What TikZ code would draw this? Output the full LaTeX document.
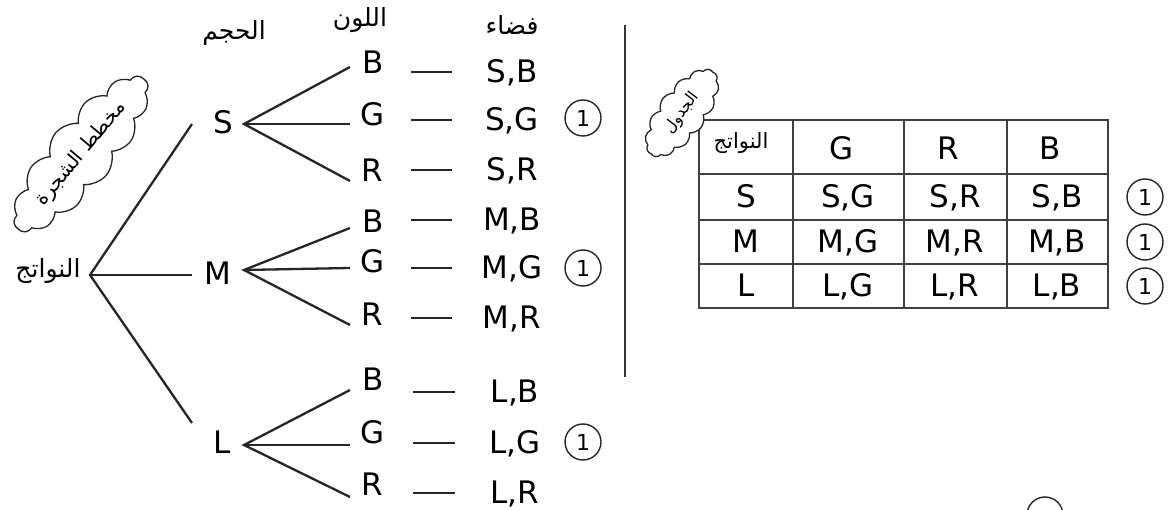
\documentclass[tikz,border=0pt]{standalone}
\usepackage{fontspec}
\setmainfont{DejaVu Sans}
\newfontfamily\arabicfont[Script=Arabic]{DejaVu Sans}
\TeXXeTstate=1
\usetikzlibrary{shapes.symbols}
\begin{document}
\begin{tikzpicture}[x=1pt,y=-1pt,
  every node/.style={inner sep=0pt,outer sep=0pt},
  lat/.style={font=\fontsize{31}{31}\selectfont,text height=22pt,text depth=0pt},
  tab/.style={font=\fontsize{31}{31}\selectfont,text height=22pt,text depth=0pt},
  ar/.style={font=\arabicfont\fontsize{25}{25}\selectfont},
  arsmall/.style={font=\arabicfont\fontsize{21}{21}\selectfont},
  tree/.style={line width=2.3pt,black!85},
  dashline/.style={line width=2.3pt,black!85},
  circ/.style={circle,draw=black!85,line width=1.4pt,minimum size=36pt,font=\fontsize{22}{22}\selectfont},
  grid/.style={line width=2pt,black!75},
  cloudbox/.style={cloud,draw=black!85,line width=1.3pt,cloud puffs=14,cloud puff arc=110,cloud ignores aspect,fill=white}
]
\path[use as bounding box,clip] (0,0) rectangle (1171,510);
\fill[white] (0,0) rectangle (1171,510);

% headers
\node[ar] (hSize) at (234,33) {\beginR الحجم\endR};
\node[ar] (hCol) at (360,20) {\beginR اللون\endR};
\node[ar] (hSpace) at (512,25) {\beginR فضاء\endR};

% root
\node[ar] (root) at (48,271) {\beginR النواتج\endR};
\coordinate (rv) at (90,275);
\coordinate (rS) at (192,124);
\coordinate (rM) at (192,275);
\coordinate (rL) at (192,423);
\draw[tree] (rS) -- (rv) -- (rL);
\draw[tree] (rv) -- (rM);

% first level
\node[lat] (S) at (223,123) {S};
\node[lat] (M) at (218,274) {M};
\node[lat] (L) at (222,443) {L};

\foreach \g/\vy/\yb/\yg/\yr/\lb/\lg/\lr in
  {S/124/67/124/181/63/115/171, M/270/228/268/325/222/262/315, L/445/390/445/497/380/433/485}{
  \coordinate (\g v) at (244,\vy);
  \coordinate (\g Be) at (350,\yb);
  \coordinate (\g Ge) at (350,\yg);
  \coordinate (\g Re) at (350,\yr);
  \node[lat] (\g Bl) at (373,\lb) {B};
  \node[lat] (\g Gl) at (373,\lg) {G};
  \node[lat] (\g Rl) at (372,\lr) {R};
  \draw[tree] (\g Be) -- (\g v) -- (\g Re);
  \draw[tree] (\g v) -- (\g Ge);
}

% outcomes
\coordinate (dl) at (411,0);
\coordinate (dr) at (452,0);
\coordinate (dlL) at (413,0);
\coordinate (drL) at (455,0);
\foreach \a/\b/\y in {S/B/72,S/G/120,S/R/170,M/B/220,M/G/268,M/R/318}{
  \node[lat] (o\a\b) at (512,\y) {\a,\b};
  \draw[dashline] (o\a\b.center -| dl) -- (o\a\b.center -| dr);
}
\foreach \a/\b/\y in {L/B/392,L/G/443,L/R/493}{
  \node[lat] (o\a\b) at (515,\y) {\a,\b};
  \draw[dashline] (o\a\b.center -| dlL) -- (o\a\b.center -| drL);
}
\node[circ] (c1) at (583,118) {1};
\node[circ] (c2) at (583,268) {1};
\node[circ] (c3) at (583,442) {1};

% divider
\coordinate (vt) at (625,25);
\coordinate (vb) at (625,377);
\draw[line width=2.6pt,black!80] (vt) -- (vb);

% table
\draw[grid] (699,120) rectangle (1108,308);
\foreach \x in {793,904,1007}{ \draw[grid] (\x,120) -- (\x,308); }
\foreach \y in {174,220,264}{ \draw[grid] (699,\y) -- (1108,\y); }
\node[arsmall] (th) at (741,143) {\beginR النواتج\endR};
\node[tab] (tG) at (842,149) {G};
\node[tab] (tR) at (948,149) {R};
\node[tab] (tB) at (1050,149) {B};
\node[tab] (tS) at (746,197) {S};
\node[tab] (tM) at (746,242) {M};
\node[tab] (tL) at (746,286) {L};
\foreach \r/\y in {S/197,M/242,L/286}{
  \node[tab] (t\r G) at (848,\y) {\r,G};
  \node[tab] (t\r R) at (955,\y) {\r,R};
  \node[tab] (t\r B) at (1057,\y) {\r,B};
}
\node[circ] (k1) at (1145,197) {1};
\node[circ] (k2) at (1145,242) {1};
\node[circ] (k3) at (1145,286) {1};

% clouds
\node[cloudbox,minimum width=196pt,minimum height=66pt,rotate=50,font=\arabicfont\fontsize{20}{20}\selectfont] (cloudA) at (81,154) {\beginR مخطط الشجرة\endR};
\node[cloudbox,minimum width=104pt,minimum height=48pt,rotate=53,font=\arabicfont\fontsize{16}{16}\selectfont] (cloudB) at (682,113) {\beginR الجدول\endR};

% partial circle at bottom
\node[circ] (k4) at (1045,515) {};
\end{tikzpicture}
\end{document}
